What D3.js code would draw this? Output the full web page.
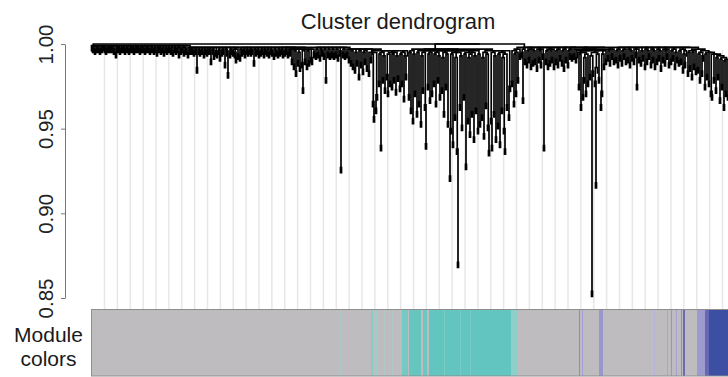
<!DOCTYPE html>
<html lang="en">
<head>
<meta charset="UTF-8">
<title>Cluster dendrogram</title>
<script src="https://d3js.org/d3.v7.min.js"></script>
<style>
  body { margin: 0; background: #fff; }
  svg { display: block; }
</style>
</head>
<body>
<div id="chart"></div>
<script>
// merge depth between neighbouring leaves, in thousandths below 1.00 (left to right)
const mergeDepth = [
  1, 2, 1, 3, 1, 2, 2, 1, 3, 1, 2, 1, 1, 2, 3, 1, 2, 1, 2, 1,
  2, 1, 3, 1, 5, 2, 1, 2, 3, 1, 2, 1, 2, 3, 1, 2, 1, 3, 1, 2,
  1, 2, 3, 1, 2, 1, 2, 1, 3, 2, 1, 2, 1, 3, 1, 2, 2, 1, 3, 1,
  2, 1, 3, 2, 1, 4, 2, 1, 2, 3, 1, 2, 4, 1, 2, 3, 1, 2, 1, 3,
  2, 4, 1, 2, 3, 1, 2, 5, 2, 3, 1, 2, 4, 2, 3, 1, 5, 2, 3, 2,
  3, 2, 4, 2, 3, 14, 2, 3, 4, 2, 3, 2, 5, 3, 2, 4, 3, 2, 3, 9,
  2, 3, 6, 2, 4, 5, 2, 3, 7, 2, 4, 3, 2, 11, 3, 4, 17, 2, 5, 3,
  2, 4, 3, 5, 8, 3, 6, 2, 7, 3, 4, 2, 3, 5, 2, 3, 4, 2, 3, 4,
  3, 2, 10, 3, 4, 2, 3, 5, 2, 4, 3, 2, 5, 3, 2, 4, 3, 5, 2, 3,
  4, 2, 6, 3, 4, 2, 5, 3, 4, 2, 3, 5, 2, 4, 3, 2, 5, 3, 4, 3,
  9, 3, 12, 4, 16, 3, 10, 5, 13, 3, 11, 26, 4, 9, 3, 12, 4, 10, 3, 8,
  9, 3, 5, 2, 6, 3, 5, 2, 7, 3, 4, 2, 6, 3, 20, 2, 5, 3, 6, 2,
  5, 3, 6, 2, 5, 3, 7, 2, 4, 73, 2, 5, 3, 6, 2, 5, 3, 8, 3, 10,
  4, 12, 3, 14, 5, 10, 3, 18, 4, 11, 3, 15, 5, 9, 4, 13, 3, 16, 5, 8,
  6, 34, 43, 5, 38, 30, 4, 22, 6, 60, 5, 20, 7, 26, 4, 18, 28, 6, 22, 5,
  24, 6, 20, 5, 27, 7, 19, 4, 25, 6, 22, 5, 31, 7, 18, 4, 0, 30, 5, 38,
  4, 44, 6, 28, 3, 40, 5, 34, 4, 46, 7, 26, 5, 36, 59, 4, 24, 6, 32, 5,
  28, 4, 22, 6, 34, 5, 20, 7, 30, 4, 26, 8, 40, 5, 24, 6, 46, 4, 78, 50,
  6, 58, 5, 42, 8, 62, 129, 5, 36, 7, 48, 4, 30, 6, 71, 5, 44, 8, 52, 6,
  40, 5, 55, 7, 38, 4, 50, 6, 46, 3, 42, 8, 53, 5, 35, 6, 48, 63, 4, 44,
  60, 5, 40, 7, 55, 4, 47, 6, 58, 5, 38, 8, 50, 62, 6, 36, 4, 42, 25, 0,
  22, 4, 34, 6, 28, 5, 20, 3, 6, 2, 5, 32, 3, 9, 2, 11, 4, 8, 3, 12,
  3, 10, 4, 9, 2, 13, 3, 8, 4, 11, 3, 6, 60, 2, 9, 4, 12, 3, 10, 4,
  8, 3, 12, 2, 9, 4, 11, 3, 7, 2, 10, 4, 13, 3, 8, 2, 11, 4, 6, 3,
  7, 2, 6, 3, 8, 4, 5, 24, 6, 36, 5, 30, 20, 8, 28, 6, 22, 4, 18, 7,
  146, 16, 5, 22, 82, 14, 6, 20, 4, 36, 28, 6, 12, 4, 9, 3, 7, 4, 10, 3,
  6, 3, 9, 2, 8, 4, 11, 3, 7, 2, 10, 4, 6, 3, 9, 2, 8, 3, 11, 4,
  7, 2, 9, 3, 5, 24, 3, 8, 2, 10, 4, 7, 2, 12, 3, 9, 4, 6, 2, 11,
  3, 8, 4, 12, 2, 9, 3, 7, 4, 13, 2, 8, 3, 10, 4, 6, 3, 11, 2, 9,
  4, 7, 3, 12, 5, 8, 2, 10, 4, 9, 3, 14, 6, 11, 4, 2, 16, 5, 13, 4,
  18, 5, 12, 4, 15, 3, 14, 6, 20, 5, 16, 7, 4, 24, 6, 18, 5, 22, 5, 28,
  30, 6, 20, 6, 26, 8, 18, 7, 32, 9, 24, 8, 36, 10, 28, 9, 30
];
const hang = 0.0035;

const yTicks = [0.85, 0.90, 0.95, 1.00];

// module colour runs, by leaf index (later runs paint over the grey base)
const runFirst = [0, 248, 280, 284, 293, 301, 311, 318, 332, 338, 353, 369, 379, 420, 488, 491, 508, 563, 576, 580, 585, 590, 592, 606, 614, 618];
const runLast  = [637, 250, 281, 285, 293, 301, 316, 329, 335, 419, 353, 369, 379, 426, 488, 491, 511, 563, 576, 580, 585, 590, 593, 613, 617, 637];
const runColor = ["#bebcbf", "#a7c9c6", "#86cdc6", "#9ccfca", "#b0c8c6", "#aecac7", "#74c9c3", "#66c5bf",
                  "#6dc7c1", "#63c5bf", "#7ccbc5", "#78cac4", "#78cac4", "#8dd0ca", "#8f8bcb", "#a29fd3",
                  "#9a97cf", "#b4b2d8", "#a9a6d4", "#9794cd", "#a3a0d2", "#8d8ac9", "#6a68b9", "#9d9ace",
                  "#6867b5", "#3c4fa2"];

const width = 728, height = 377;
const font = "Arial, 'Liberation Sans', sans-serif";

const svg = d3.select("#chart").append("svg")
    .attr("width", width)
    .attr("height", height)
    .style("font-family", font);

const leafCount = mergeDepth.length + 1;
const x = d3.scaleLinear().domain([0, leafCount]).range([91, 91 + leafCount]);
const y = d3.scaleLinear().domain([0.85, 1.0]).range([298, 44]);

// build the tree: split a run of leaves at its highest merge
function build(lo, hi) {
    if (lo === hi) return { leaf: lo };
    let k = lo;
    for (let j = lo; j < hi; j++) if (mergeDepth[j] < mergeDepth[k]) k = j;
    return { drop: mergeDepth[k], children: [build(lo, k), build(k + 1, hi)] };
}

const root = d3.hierarchy(build(0, leafCount - 1));
root.eachAfter(n => {
    n.px = n.children ? (n.children[0].px + n.children[1].px) / 2 : x(n.data.leaf + 0.5);
});
const mergeHeight = n => 1 - n.data.drop / 1000;

// faint vertical guides behind the tree
const guide = d3.scaleLinear().domain([0, 48]).range([104.5, 722.5]);
svg.append("g")
    .selectAll("line")
    .data(d3.range(49))
    .join("line")
    .attr("x1", d => guide(d))
    .attr("x2", d => guide(d))
    .attr("y1", 50)
    .attr("y2", 309)
    .attr("stroke", "#e7e7e7")
    .attr("stroke-width", 1.5);

svg.append("g")
    .selectAll("path")
    .data(root.descendants().filter(n => n.children))
    .join("path")
    .attr("d", n => {
        const h = mergeHeight(n);
        const [a, b] = n.children;
        const ha = a.children ? mergeHeight(a) : h - hang;
        const hb = b.children ? mergeHeight(b) : h - hang;
        return `M${a.px},${y(ha)}V${y(h)}H${b.px}V${y(hb)}`;
    })
    .attr("fill", "none")
    .attr("stroke", "#000")
    .attr("stroke-width", 1.7);

// y axis
const axis = svg.append("g")
    .attr("transform", "translate(65,0)")
    .call(d3.axisLeft(y).tickValues(yTicks).tickFormat(d3.format(".2f")).tickSize(4).tickSizeOuter(0))
    .attr("font-family", font)
    .attr("font-size", 20.5);
axis.select(".domain").attr("stroke", "#777");
axis.selectAll(".tick line").attr("stroke", "#777");
axis.selectAll(".tick text")
    .attr("transform", "rotate(-90)")
    .attr("x", 0)
    .attr("y", -12)
    .attr("dy", null)
    .attr("text-anchor", "middle")
    .attr("fill", "#222");

// title
svg.append("text")
    .attr("x", 398)
    .attr("y", 29)
    .attr("text-anchor", "middle")
    .attr("font-size", 22)
    .attr("fill", "#1a1a1a")
    .text("Cluster dendrogram");

// module colour bar
const barTop = 309, barBottom = 376;
svg.append("g")
    .selectAll("rect")
    .data(runColor)
    .join("rect")
    .attr("x", (c, i) => x(runFirst[i]))
    .attr("width", (c, i) => x(runLast[i] + 1) - x(runFirst[i]))
    .attr("y", barTop)
    .attr("height", barBottom - barTop)
    .attr("fill", c => c);
svg.append("rect")
    .attr("x", x(0) + 0.5)
    .attr("y", barTop + 0.5)
    .attr("width", x(leafCount) - x(0))
    .attr("height", barBottom - barTop - 0.5)
    .attr("fill", "none")
    .attr("stroke", "#8e8e8e");

const label = svg.append("text")
    .attr("text-anchor", "middle")
    .attr("font-size", 21)
    .attr("fill", "#1a1a1a");
label.append("tspan").attr("x", 48.5).attr("y", 342).text("Module");
label.append("tspan").attr("x", 48.5).attr("y", 365.5).text("colors");
</script>
</body>
</html>
